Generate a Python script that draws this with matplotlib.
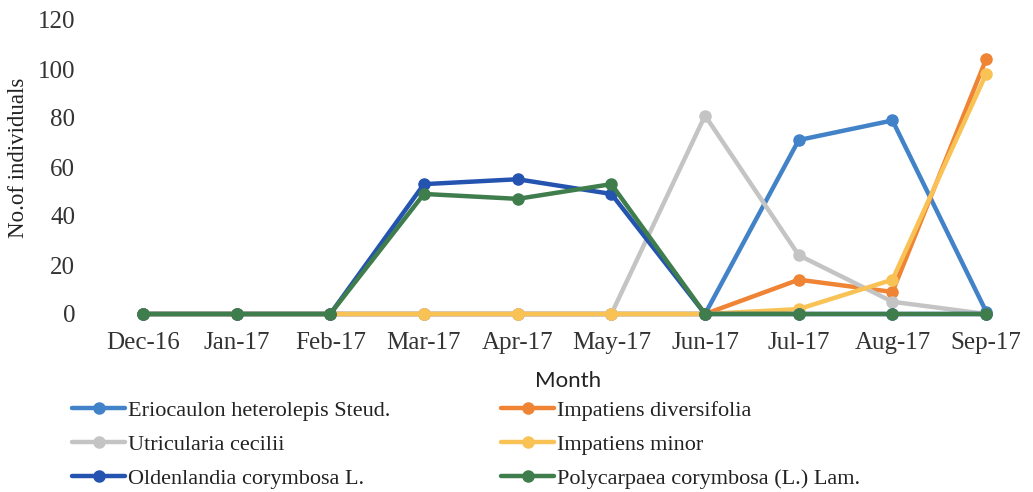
import matplotlib
matplotlib.use("Agg")
import matplotlib.pyplot as plt

months = ["Dec-16", "Jan-17", "Feb-17", "Mar-17", "Apr-17", "May-17",
          "Jun-17", "Jul-17", "Aug-17", "Sep-17"]

eriocaulon = [0, 0, 0, 0, 0, 0, 0, 71, 79, 1]
imp_diversifolia = [0, 0, 0, 0, 0, 0, 0, 14, 9, 104]
utricularia = [0, 0, 0, 0, 0, 0, 81, 24, 5, 0]
imp_minor = [0, 0, 0, 0, 0, 0, 0, 2, 14, 98]
oldenlandia = [0, 0, 0, 53, 55, 49, 0, 0, 0, 0]
polycarpaea = [0, 0, 0, 49, 47, 53, 0, 0, 0, 0]

series_names = ["Eriocaulon heterolepis Steud.", "Impatiens diversifolia",
                "Utricularia cecilii", "Impatiens minor",
                "Oldenlandia corymbosa L.", "Polycarpaea corymbosa (L.) Lam."]
series_values = [eriocaulon, imp_diversifolia, utricularia, imp_minor,
                 oldenlandia, polycarpaea]
colors = ["#4282c8", "#ee8434", "#c4c4c4", "#f9c255", "#2454b0", "#3f7d4d"]

yticks = [0, 20, 40, 60, 80, 100, 120]

serif = "Liberation Serif"

fig = plt.figure(figsize=(10.33, 4.92), dpi=100)
ax = fig.add_axes([96 / 1033, 178 / 492, 937 / 1033, 294 / 492])

x = list(range(len(months)))
handles = []
for name, vals, c in zip(series_names, series_values, colors):
    h, = ax.plot(x, vals, color=c, lw=3.2, marker="o", ms=8,
                 label=name, clip_on=False, solid_capstyle="round")
    handles.append(h)

ax.set_xlim(-0.5, len(months) - 0.5)
ax.set_ylim(0, 120)
ax.set_yticks(yticks)
ax.set_xticks(x)
ax.set_xticklabels(months, fontfamily=serif, fontsize=18, color="#333333")
ax.set_yticklabels([str(v) for v in yticks], fontfamily=serif, fontsize=18,
                   color="#333333")
ax.tick_params(axis="both", length=0)
ax.tick_params(axis="y", pad=15)
ax.tick_params(axis="x", pad=13)
for s in ax.spines.values():
    s.set_visible(False)

ax.set_ylabel("No.of individuals", fontfamily=serif, fontsize=16.5,
              color="#222222")
ax.yaxis.set_label_coords(-0.072, 0.53)
fig.text(568 / 1033, 1 - 381 / 492, "Month", fontfamily="Lato", fontsize=16,
         ha="center", va="center", color="#222222")

order = [0, 2, 4, 1, 3, 5]
leg = fig.legend([handles[i] for i in order], [series_names[i] for i in order],
                 ncol=2, loc="upper left",
                 bbox_to_anchor=(72 / 1033, 1 - 400 / 492),
                 frameon=False, borderpad=0, borderaxespad=0,
                 handlelength=2.4, handletextpad=0.1, columnspacing=5.0,
                 labelspacing=0.62, prop={"family": serif, "size": 16})
for t in leg.get_texts():
    t.set_color("#222222")

fig.savefig("out.png", dpi=100)
